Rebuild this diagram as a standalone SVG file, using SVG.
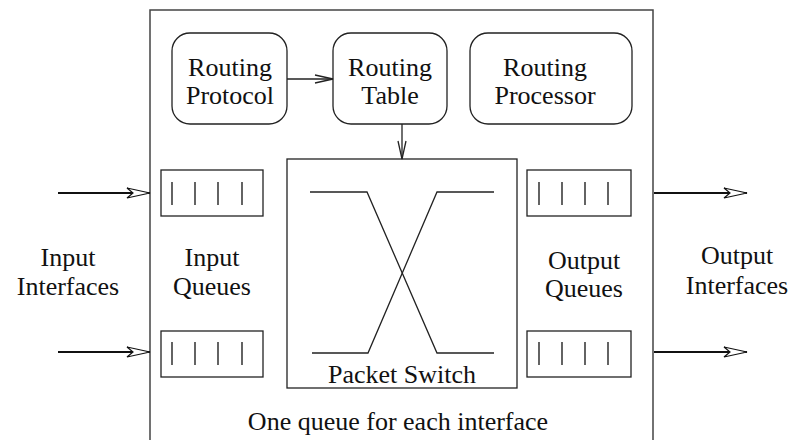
<svg xmlns="http://www.w3.org/2000/svg" width="791" height="440" viewBox="0 0 791 440">
  <style>
    .frame { fill: none; stroke: #444; stroke-width: 1.5; }
    .box { fill: #fff; stroke: #222; stroke-width: 1.3; }
    .ln { fill: none; stroke: #222; stroke-width: 1.3; }
    .bar { stroke: #111; stroke-width: 1.3; }
    .thick { fill: none; stroke: #111; stroke-width: 2.2; }
    .lbl { font-family: "Liberation Serif", "Times New Roman", Times, Tinos, "Nimbus Roman", "FreeSerif", "DejaVu Serif", "Noto Serif", serif; font-size: 26px; fill: #111; text-anchor: middle; }
  </style>
  <defs>
    <marker id="hollow" viewBox="-25 -7 27 14" refX="0" refY="0" markerWidth="27" markerHeight="14" markerUnits="userSpaceOnUse" orient="auto">
      <path d="M0,0 L-23,-5 L-17,0 L-23,5 Z" fill="#fff" stroke="#111" stroke-width="1.2" stroke-linejoin="miter"/>
    </marker>
    <marker id="vee" viewBox="-20 -6 22 12" refX="0" refY="0" markerWidth="22" markerHeight="12" markerUnits="userSpaceOnUse" orient="auto">
      <path d="M-18,-4 L0,0 L-18,4" fill="none" stroke="#222" stroke-width="1.3"/>
    </marker>
  </defs>

  <rect width="791" height="440" fill="#fff"/>

  <!-- router enclosure -->
  <g id="router">
    <path class="frame" d="M150,445 V10 H653 V445"/>
  </g>

  <g id="routing-protocol">
    <rect class="box" x="172" y="33" width="115" height="91" rx="18"/>
    <text class="lbl" x="230" y="76">Routing</text>
    <text class="lbl" x="230" y="104">Protocol</text>
  </g>

  <g id="routing-table">
    <rect class="box" x="333" y="33" width="114" height="91" rx="18"/>
    <text class="lbl" x="390" y="76">Routing</text>
    <text class="lbl" x="390" y="104">Table</text>
  </g>

  <g id="routing-processor">
    <rect class="box" x="470" y="33" width="162" height="91" rx="18"/>
    <text class="lbl" x="545" y="76">Routing</text>
    <text class="lbl" x="545" y="104">Processor</text>
  </g>

  <g id="packet-switch">
    <rect class="box" x="287" y="159" width="230" height="229"/>
    <path class="ln" d="M310,192 H367 L437,353 H494"/>
    <path class="ln" d="M494,192 H437 L368,353 H312"/>
    <text class="lbl" x="402" y="383">Packet Switch</text>
  </g>

  <g id="input-queue-1">
    <rect class="box" x="161" y="170" width="102" height="46"/>
    <path class="bar" d="M172,182 V205 M195,182 V205 M218,182 V205 M242,182 V205"/>
  </g>
  <g id="input-queue-2">
    <rect class="box" x="161" y="331" width="102" height="46"/>
    <path class="bar" d="M172,342 V365 M195,342 V365 M218,342 V365 M242,342 V365"/>
  </g>
  <g id="output-queue-1">
    <rect class="box" x="527" y="170" width="104" height="46"/>
    <path class="bar" d="M539,182 V205 M562,182 V205 M585,182 V205 M608,182 V205"/>
  </g>
  <g id="output-queue-2">
    <rect class="box" x="527" y="331" width="104" height="46"/>
    <path class="bar" d="M539,342 V365 M562,342 V365 M585,342 V365 M608,342 V365"/>
  </g>

  <g id="labels">
    <text class="lbl" x="68" y="266">Input</text>
    <text class="lbl" x="68" y="295">Interfaces</text>
    <text class="lbl" x="212" y="266">Input</text>
    <text class="lbl" x="212" y="295">Queues</text>
    <text class="lbl" x="584" y="269">Output</text>
    <text class="lbl" x="584" y="297">Queues</text>
    <text class="lbl" x="737" y="264">Output</text>
    <text class="lbl" x="737" y="294">Interfaces</text>
    <text class="lbl" x="398" y="430">One queue for each interface</text>
  </g>

  <g id="connectors">
    <line class="ln" x1="287" y1="79" x2="333" y2="79" marker-end="url(#vee)"/>
    <line class="ln" x1="402" y1="124" x2="402" y2="159" marker-end="url(#vee)"/>
    <line class="thick" x1="58" y1="193" x2="150" y2="193" marker-end="url(#hollow)"/>
    <line class="thick" x1="58" y1="352" x2="150" y2="352" marker-end="url(#hollow)"/>
    <line class="thick" x1="654" y1="193" x2="747" y2="193" marker-end="url(#hollow)"/>
    <line class="thick" x1="654" y1="352" x2="747" y2="352" marker-end="url(#hollow)"/>
  </g>
</svg>
